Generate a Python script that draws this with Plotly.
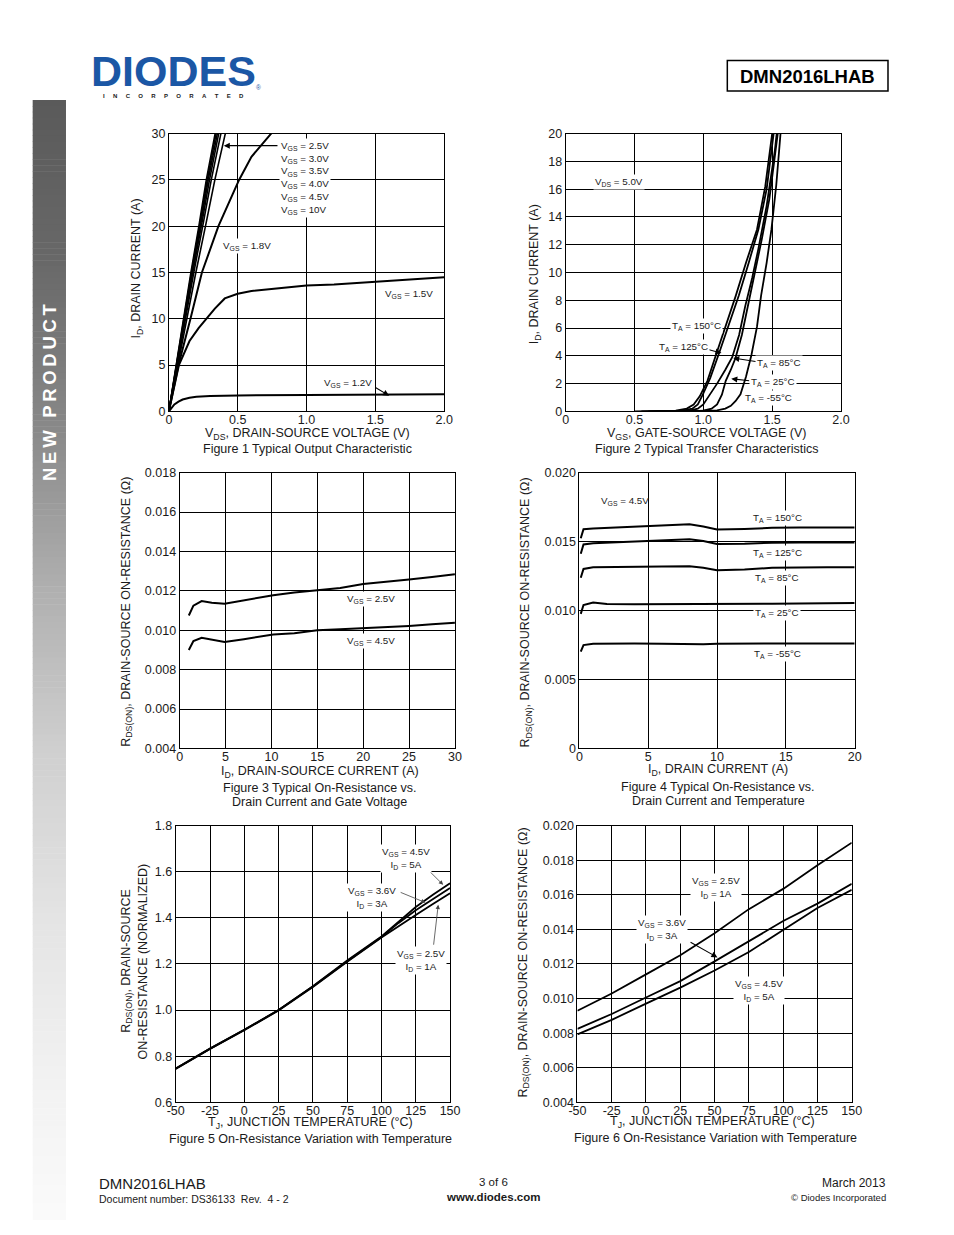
import plotly.graph_objects as go

# page is 954x1235; the browser's default 8px body margin is accounted for
PAGE_W, PAGE_H = 954, 1235
OFF = 8
W, H = PAGE_W - 2 * OFF, PAGE_H - 2 * OFF

# ---------------- DATA ----------------
# Figure 1: Typical output characteristic (ID vs VDS)
f1_id_steep = [0, 5, 10, 15, 20, 25, 30, 32]
f1_vds_10v = [0, 0.052, 0.105, 0.160, 0.218, 0.272, 0.336, 0.360]
f1_vds_45v = [0, 0.053, 0.108, 0.164, 0.223, 0.279, 0.343, 0.368]
f1_vds_40v = [0, 0.055, 0.111, 0.168, 0.229, 0.286, 0.352, 0.377]
f1_vds_35v = [0, 0.057, 0.115, 0.173, 0.236, 0.295, 0.362, 0.388]
f1_vds_30v = [0, 0.060, 0.120, 0.181, 0.246, 0.308, 0.378, 0.405]
f1_vds_25v = [0, 0.064, 0.130, 0.196, 0.266, 0.334, 0.410, 0.440]
f1_vds_18v = [0, 0.07, 0.157, 0.24, 0.36, 0.51, 0.60, 0.74, 0.80]
f1_id_18v = [0, 5, 10, 15, 20, 25, 27.5, 30, 31]
f1_vds_15v = [0, 0.02, 0.073, 0.15, 0.216, 0.334, 0.406, 0.5, 0.6, 0.8, 1.0, 1.2, 1.4, 1.6, 1.8, 2.0]
f1_id_15v = [0, 1.4, 5.0, 7.6, 9.0, 11.1, 12.2, 12.7, 13.0, 13.3, 13.6, 13.7, 13.9, 14.1, 14.3, 14.5]
f1_vds_12v = [0, 0.02, 0.04, 0.07, 0.1, 0.15, 0.2, 0.3, 0.5, 1.0, 1.5, 2.0]
f1_id_12v = [0, 0.4, 0.75, 1.05, 1.28, 1.47, 1.57, 1.66, 1.72, 1.78, 1.82, 1.85]

# Figure 2: Typical transfer characteristics (ID vs VGS)
f2_vgs_150 = [0.50, 0.70, 0.80, 0.88, 0.93, 0.975, 1.03, 1.09, 1.16, 1.235, 1.31, 1.39, 1.45, 1.50, 1.52]
f2_id_150 = [0, 0.01, 0.06, 0.2, 0.5, 1.1, 2.2, 4.0, 6.0, 8.3, 10.7, 13.1, 16.2, 20.0, 21.5]
f2_vgs_125 = [0.55, 0.75, 0.85, 0.92, 0.96, 0.996, 1.05, 1.115, 1.185, 1.258, 1.33, 1.40, 1.46, 1.51, 1.53]
f2_id_125 = [0, 0.01, 0.06, 0.2, 0.5, 1.2, 2.4, 4.2, 6.2, 8.35, 10.7, 13.1, 16.0, 19.6, 21.5]
f2_vgs_85 = [0.60, 0.80, 0.90, 0.96, 1.00, 1.04, 1.10, 1.16, 1.21, 1.26, 1.305, 1.355, 1.40, 1.46, 1.52, 1.55]
f2_id_85 = [0, 0.01, 0.05, 0.2, 0.5, 1.1, 2.0, 3.0, 3.9, 5.5, 7.6, 9.6, 11.7, 14.8, 18.8, 21.5]
f2_vgs_25 = [0.70, 0.90, 1.00, 1.06, 1.10, 1.135, 1.163, 1.20, 1.234, 1.28, 1.33, 1.38, 1.425, 1.48, 1.53, 1.56]
f2_id_25 = [0, 0.01, 0.05, 0.2, 0.5, 1.2, 2.2, 3.0, 3.84, 5.5, 7.9, 10.2, 12.4, 15.3, 18.8, 21.5]
f2_vgs_m55 = [0.80, 1.00, 1.10, 1.16, 1.20, 1.235, 1.27, 1.31, 1.35, 1.39, 1.42, 1.46, 1.495, 1.53, 1.565]
f2_id_m55 = [0, 0.02, 0.08, 0.2, 0.4, 0.75, 1.23, 2.5, 4.08, 6.1, 8.35, 10.7, 13.1, 16.3, 20.5]

# Figure 3: On-resistance vs drain current and gate voltage
f3_id = [1.0, 1.5, 2.4, 3.5, 4.9, 7.0, 10.2, 12.5, 15.0, 17.5, 20.0, 22.5, 25.0, 27.5, 30.0]
f3_r_25v = [0.01075, 0.01125, 0.01148, 0.01140, 0.01135, 0.01152, 0.01178, 0.01192, 0.01202,
            0.01215, 0.01235, 0.01245, 0.01258, 0.01270, 0.01284]
f3_r_45v = [0.00900, 0.00945, 0.00962, 0.00952, 0.00940, 0.00955, 0.00978, 0.00985, 0.01000,
            0.01005, 0.01010, 0.01015, 0.01022, 0.01030, 0.01038]

# Figure 4: On-resistance vs drain current and temperature
f4_id = [0.1, 0.3, 1, 2, 4, 6, 8, 9, 10, 12, 14, 16, 18, 20]
f4_r_150 = [0.01524, 0.01590, 0.01595, 0.01600, 0.01610, 0.01618, 0.01626, 0.01610, 0.01588,
            0.01592, 0.01600, 0.01602, 0.01602, 0.01602]
f4_r_125 = [0.01412, 0.01480, 0.01488, 0.01492, 0.01498, 0.01508, 0.01517, 0.01505, 0.01483,
            0.01485, 0.01492, 0.01493, 0.01493, 0.01493]
f4_r_85 = [0.01238, 0.01302, 0.01314, 0.01316, 0.01318, 0.01320, 0.01321, 0.01310, 0.01293,
           0.01298, 0.01310, 0.01314, 0.01314, 0.01314]
f4_r_25 = [0.00976, 0.01040, 0.01058, 0.01048, 0.01045, 0.01045, 0.01046, 0.01046, 0.01046,
           0.01048, 0.01050, 0.01052, 0.01054, 0.01055]
f4_r_m55 = [0.00702, 0.00750, 0.00760, 0.00762, 0.00762, 0.00760, 0.00755, 0.00755, 0.00760,
            0.00762, 0.00762, 0.00762, 0.00762, 0.00762]

# Figure 5: Normalized on-resistance vs junction temperature
f5_tj = [-50, -25, 0, 25, 50, 75, 100, 112.5, 125, 137.5, 150]
f5_n_45v = [0.747, 0.833, 0.915, 1.000, 1.104, 1.215, 1.319, 1.385, 1.447, 1.500, 1.550]
f5_n_36v = [0.747, 0.833, 0.915, 1.000, 1.102, 1.212, 1.317, 1.378, 1.433, 1.482, 1.529]
f5_n_25v = [0.745, 0.831, 0.913, 0.998, 1.100, 1.210, 1.315, 1.365, 1.412, 1.460, 1.507]

# Figure 6: On-resistance vs junction temperature
f6_tj = [-50, -25, 0, 25, 50, 75, 100, 125, 150]
f6_r_25v = [0.00930, 0.01029, 0.01140, 0.01250, 0.01377, 0.01517, 0.01634, 0.01771, 0.01901]
f6_r_36v = [0.00825, 0.00911, 0.01006, 0.01101, 0.01215, 0.01334, 0.01448, 0.01549, 0.01663]
f6_r_45v = [0.00793, 0.00877, 0.00971, 0.01063, 0.01162, 0.01269, 0.01397, 0.01524, 0.01629]

# Tick labels
f1_xticks = [0, 0.5, 1.0, 1.5, 2.0]
f1_xlabels = ["0", "0.5", "1.0", "1.5", "2.0"]
f1_yticks = [0, 5, 10, 15, 20, 25, 30]
f2_yticks = [0, 2, 4, 6, 8, 10, 12, 14, 16, 18, 20]
f3_xticks = [0, 5, 10, 15, 20, 25, 30]
f3_yticks = [0.004, 0.006, 0.008, 0.010, 0.012, 0.014, 0.016, 0.018]
f3_ylabels = ["0.004", "0.006", "0.008", "0.010", "0.012", "0.014", "0.016", "0.018"]
f4_xticks = [0, 5, 10, 15, 20]
f4_yticks = [0, 0.005, 0.010, 0.015, 0.020]
f4_ylabels = ["0", "0.005", "0.010", "0.015", "0.020"]
f5_xticks = [-50, -25, 0, 25, 50, 75, 100, 125, 150]
f5_yticks = [0.6, 0.8, 1.0, 1.2, 1.4, 1.6, 1.8]
f5_ylabels = ["0.6", "0.8", "1.0", "1.2", "1.4", "1.6", "1.8"]
f6_yticks = [0.004, 0.006, 0.008, 0.010, 0.012, 0.014, 0.016, 0.018, 0.020]
f6_ylabels = ["0.004", "0.006", "0.008", "0.010", "0.012", "0.014", "0.016", "0.018", "0.020"]

# ---------------- FIGURE ----------------
FONT = "Liberation Sans, Arial, sans-serif"
fig = go.Figure()

def PX(px):
    return (px - OFF) / W

def PY(py):
    return 1 - (py - OFF) / H

def line(x, y, k, w=2.0):
    ax = "" if k == 1 else str(k)
    fig.add_trace(go.Scatter(x=x, y=y, mode="lines", line=dict(color="black", width=w),
                             xaxis="x" + ax, yaxis="y" + ax, hoverinfo="skip"))

for v in [f1_vds_10v, f1_vds_45v, f1_vds_40v, f1_vds_35v, f1_vds_30v, f1_vds_25v]:
    line(v, f1_id_steep, 1, 1.6)
line(f1_vds_18v, f1_id_18v, 1)
line(f1_vds_15v, f1_id_15v, 1)
line(f1_vds_12v, f1_id_12v, 1)

for v, i in [(f2_vgs_150, f2_id_150), (f2_vgs_125, f2_id_125), (f2_vgs_85, f2_id_85),
             (f2_vgs_25, f2_id_25), (f2_vgs_m55, f2_id_m55)]:
    line(v, i, 2, 1.8)

line(f3_id, f3_r_25v, 3)
line(f3_id, f3_r_45v, 3)

for r in [f4_r_150, f4_r_125, f4_r_85, f4_r_25, f4_r_m55]:
    line(f4_id, r, 4)

for n in [f5_n_45v, f5_n_36v, f5_n_25v]:
    line(f5_tj, n, 5, 1.8)

for r in [f6_r_25v, f6_r_36v, f6_r_45v]:
    line(f6_tj, r, 6, 1.8)

# axis boxes (page pixel rectangles)
boxes = {
    1: (163, 444, 128, 409),
    2: (568, 849, 128, 409),
    3: (174, 455, 471, 750),
    4: (582, 863, 471, 750),
    5: (170, 450, 828, 1108),
    6: (580, 860, 828, 1108),
}
ranges = {
    1: ([0, 2], [0, 30], f1_xticks, f1_xlabels, f1_yticks, [str(t) for t in f1_yticks]),
    2: ([0, 2], [0, 20], f1_xticks, f1_xlabels, f2_yticks, [str(t) for t in f2_yticks]),
    3: ([0, 30], [0.004, 0.018], f3_xticks, [str(t) for t in f3_xticks], f3_yticks, f3_ylabels),
    4: ([0, 20], [0, 0.020], f4_xticks, [str(t) for t in f4_xticks], f4_yticks, f4_ylabels),
    5: ([-50, 150], [0.6, 1.8], f5_xticks, [str(t) for t in f5_xticks], f5_yticks, f5_ylabels),
    6: ([-50, 150], [0.004, 0.020], f5_xticks, [str(t) for t in f5_xticks], f6_yticks, f6_ylabels),
}
axstyle = dict(showline=True, mirror=True, linecolor="black", linewidth=1, showgrid=True,
               gridcolor="black", gridwidth=1, zeroline=False, ticks="", fixedrange=True,
               tickfont=dict(family=FONT, size=12.5, color="#1a1a1a"))
lay = {}
for k, (x0, x1, y0, y1) in boxes.items():
    xr, yr, xt, xl, yt, yl = ranges[k]
    sfx = "" if k == 1 else str(k)
    lay["xaxis" + sfx] = dict(axstyle, domain=[PX(x0), PX(x1)], range=xr, tickvals=xt, ticktext=xl,
                              anchor="y" + sfx, ticklabelstandoff=-3)
    lay["yaxis" + sfx] = dict(axstyle, domain=[PY(y1), PY(y0)], range=yr, tickvals=yt,
                              ticktext=yl, anchor="x" + sfx)
fig.update_layout(**lay)

ann = []
shapes = []

def ptxt(text, px, py, size=12.5, xanchor="center", bold=False, angle=0, color="#1a1a1a"):
    if bold:
        text = "<b>" + text + "</b>"
    ann.append(dict(text=text, x=PX(px), y=PY(py), xref="paper", yref="paper", showarrow=False,
                    xanchor=xanchor, yanchor="middle", textangle=angle,
                    font=dict(family=FONT, size=size, color=color)))

def lab(text, x, y, k, size=9.8, bg=True, align="center", xanchor="center", yanchor="middle"):
    sfx = "" if k == 1 else str(k)
    d = dict(text=text, x=x, y=y, xref="x" + sfx, yref="y" + sfx, showarrow=False, align=align,
             xanchor=xanchor, yanchor=yanchor, font=dict(family=FONT, size=size, color="#1a1a1a"))
    if bg:
        d.update(bgcolor="white", borderpad=1)
    ann.append(d)

def arrow(xh, yh, xt, yt, k, color="black", width=1.1):
    sfx = "" if k == 1 else str(k)
    ann.append(dict(text="", x=xh, y=yh, ax=xt, ay=yt, xref="x" + sfx, yref="y" + sfx,
                    axref="x" + sfx, ayref="y" + sfx, showarrow=True, arrowhead=2, arrowsize=1.1,
                    arrowwidth=width, arrowcolor=color, standoff=0))

# ---- Figure 1 labels ----
arrow(0.399, 28.7, 0.80, 28.7, 1)
lab("V<sub>GS</sub> = 2.5V<br>V<sub>GS</sub> = 3.0V<br>V<sub>GS</sub> = 3.5V<br>V<sub>GS</sub> = 4.0V<br>"
    "V<sub>GS</sub> = 4.5V<br>V<sub>GS</sub> = 10V", 0.80, 29.5, 1, size=9.8, align="left",
    xanchor="left", yanchor="top")
lab("V<sub>GS</sub> = 1.8V", 0.57, 17.9, 1)
lab("V<sub>GS</sub> = 1.5V", 1.744, 12.7, 1)
arrow(1.60, 1.7, 1.49, 2.67, 1)
lab("V<sub>GS</sub> = 1.2V", 1.30, 3.1, 1)

# ---- Figure 2 labels ----
lab("V<sub>DS</sub> = 5.0V", 0.391, 16.5, 2)
lab("T<sub>A</sub> = 150°C", 0.954, 6.12, 2)
arrow(1.132, 4.2, 1.025, 4.48, 2)
lab("T<sub>A</sub> = 125°C", 0.854, 4.63, 2)
arrow(1.217, 3.84, 1.402, 3.56, 2)
lab("T<sub>A</sub> = 85°C", 1.552, 3.49, 2)
arrow(1.203, 2.35, 1.345, 2.2, 2)
lab("T<sub>A</sub> = 25°C", 1.509, 2.14, 2)
lab("T<sub>A</sub> = -55°C", 1.473, 0.93, 2)

# ---- Figure 3 labels ----
lab("V<sub>GS</sub> = 2.5V", 20.9, 0.0116, 3)
lab("V<sub>GS</sub> = 4.5V", 20.8, 0.00945, 3)

# ---- Figure 4 labels ----
lab("V<sub>GS</sub> = 4.5V", 3.35, 0.01793, 4, bg=False)
lab("T<sub>A</sub> = 150°C", 14.38, 0.01671, 4)
lab("T<sub>A</sub> = 125°C", 14.38, 0.01421, 4)
lab("T<sub>A</sub> = 85°C", 14.38, 0.01236, 4)
lab("T<sub>A</sub> = 25°C", 14.38, 0.00979, 4)
lab("T<sub>A</sub> = -55°C", 14.38, 0.00686, 4)

# ---- Figure 5 labels ----
arrow(145, 1.543, 132, 1.62, 5, color="#444444", width=0.8)
arrow(132.1, 1.466, 112.9, 1.513, 5, color="#444444", width=0.8)
arrow(141.4, 1.457, 137.9, 1.277, 5, color="#444444", width=0.8)
lab("V<sub>GS</sub> = 4.5V<br>I<sub>D</sub> = 5A", 117.9, 1.657, 5)
lab("V<sub>GS</sub> = 3.6V<br>I<sub>D</sub> = 3A", 92.9, 1.487, 5)
lab("V<sub>GS</sub> = 2.5V<br>I<sub>D</sub> = 1A", 128.6, 1.213, 5)

# ---- Figure 6 labels ----
lab("V<sub>GS</sub> = 2.5V<br>I<sub>D</sub> = 1A", 50.7, 0.01644, 6)
arrow(52.1, 0.01238, 31.4, 0.0133, 6)
lab("V<sub>GS</sub> = 3.6V<br>I<sub>D</sub> = 3A", 11.4, 0.01398, 6)
lab("V<sub>GS</sub> = 4.5V<br>I<sub>D</sub> = 5A", 82.1, 0.01044, 6)

# ---- axis titles and captions ----
ptxt("I<sub>D</sub>, DRAIN CURRENT (A)", 131, 265, angle=-90)
ptxt("V<sub>DS</sub>, DRAIN-SOURCE VOLTAGE (V)", 305, 432)
ptxt("Figure 1 Typical Output Characteristic", 305, 447)

ptxt("I<sub>D</sub>, DRAIN CURRENT (A)", 537, 270, angle=-90)
ptxt("V<sub>GS</sub>, GATE-SOURCE VOLTAGE (V)", 712, 432)
ptxt("Figure 2 Typical Transfer Characteristics", 712, 447)

ptxt("R<sub>DS(ON)</sub>, DRAIN-SOURCE ON-RESISTANCE (Ω)", 120, 612, angle=-90)
ptxt("I<sub>D</sub>, DRAIN-SOURCE CURRENT (A)", 317, 774)
ptxt("Figure 3 Typical On-Resistance vs.", 317, 790)
ptxt("Drain Current and Gate Voltage", 317, 804)

ptxt("R<sub>DS(ON)</sub>, DRAIN-SOURCE ON-RESISTANCE (Ω)", 528, 612, angle=-90)
ptxt("I<sub>D</sub>, DRAIN CURRENT (A)", 724, 772)
ptxt("Figure 4 Typical On-Resistance vs.", 724, 789)
ptxt("Drain Current and Temperature", 724, 803)

ptxt("R<sub>DS(ON)</sub>, DRAIN-SOURCE", 120, 965, angle=-90)
ptxt("ON-RESISTANCE (NORMALIZED)", 137, 965, angle=-90)
ptxt("T<sub>J</sub>, JUNCTION TEMPERATURE (°C)", 308, 1129)
ptxt("Figure 5 On-Resistance Variation with Temperature", 308, 1145)

ptxt("R<sub>DS(ON)</sub>, DRAIN-SOURCE ON-RESISTANCE (Ω)", 525, 967, angle=-90)
ptxt("T<sub>J</sub>, JUNCTION TEMPERATURE (°C)", 718, 1128)
ptxt("Figure 6 On-Resistance Variation with Temperature", 721, 1144)

# ---- page header ----
ptxt("DIODES", 168, 65, size=43, bold=True, color="#1b57a5")
ptxt("\u00a0\u00a0\u00a0\u00a0\u00a0".join("INCORPORATED"), 168, 90, size=6, bold=True, color="#1a1a1a")
ptxt("®", 254, 81, size=6.5, color="#1b57a5")
shapes.append(dict(type="rect", xref="paper", yref="paper", x0=PX(733), x1=PX(897),
                   y0=PY(85), y1=PY(54), line=dict(color="black", width=1.5)))
ptxt("DMN2016LHAB", 815, 70, size=18.5, bold=True, color="black")

# ---- side bar (gradient) ----
grad = [(94, 90), (257, 104), (423, 136), (590, 176), (757, 208), (923, 228), (1090, 242), (1235, 251)]
ystep = 6
yy = 94
ybot = PAGE_H - OFF
while yy < ybot:
    ymid = yy + ystep / 2
    c = 251
    for (a, ca), (b, cb) in zip(grad[:-1], grad[1:]):
        if a <= ymid <= b:
            c = int(round(ca + (cb - ca) * (ymid - a) / (b - a)))
            break
    shapes.append(dict(type="rect", xref="paper", yref="paper", x0=PX(24), x1=PX(58),
                       y0=PY(min(yy + ystep + 0.5, ybot)), y1=PY(yy),
                       line=dict(width=0), fillcolor="rgb(%d,%d,%d)" % (c, c, c), layer="below"))
    yy += ystep
ptxt("\u2009".join("NEW PRODUCT"), 41, 389, size=18.5, bold=True, angle=-90, color="white")

# ---- footer ----
ptxt("DMN2016LHAB", 90, 1190, size=15, xanchor="left")
ptxt("Document number: DS36133\u00a0\u00a0Rev.\u00a0\u00a04 - 2", 90, 1206, size=10.5, xanchor="left")
ptxt("3 of 6", 494, 1189, size=11.5)
ptxt("www.diodes.com", 494, 1204, size=11.5, bold=True)
ptxt("March 2013", 897, 1190, size=12, xanchor="right")
ptxt("© Diodes Incorporated", 897, 1204, size=9.5, xanchor="right")

fig.update_layout(width=W, height=H, margin=dict(l=0, r=0, t=0, b=0), paper_bgcolor="white",
                  plot_bgcolor="white", showlegend=False, annotations=ann, shapes=shapes,
                  font=dict(family=FONT))
fig.write_html("out.html", config={"displayModeBar": False, "staticPlot": True})
